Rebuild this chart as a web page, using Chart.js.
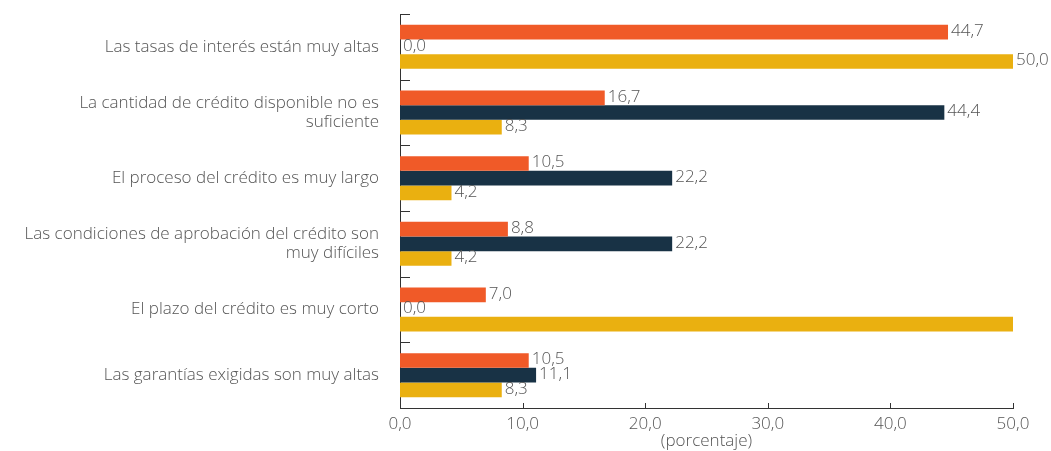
<!DOCTYPE html>
<html>
<head>
<meta charset="utf-8">
<script src="https://cdn.jsdelivr.net/npm/chart.js@4/dist/chart.umd.min.js"></script>
<style>
html,body{margin:0;padding:0;background:#fff;}
#wrap{width:1051px;height:451px;position:relative;}
</style>
</head>
<body>
<div id="wrap"><canvas id="c" width="1051" height="451"></canvas></div>
<script>
const categories = [
  "Las tasas de interés están muy altas",
  ["La cantidad de crédito disponible no es", "suficiente"],
  "El proceso del crédito es muy largo",
  ["Las condiciones de aprobación del crédito son", "muy difíciles"],
  "El plazo del crédito es muy corto",
  "Las garantías exigidas son muy altas"
];
const seriesOrange = [44.7, 16.7, 10.5, 8.8, 7.0, 10.5];
const seriesNavy   = [0.0, 44.4, 22.2, 22.2, 0.0, 11.1];
const seriesYellow = [50.0, 8.3, 4.2, 4.2, 50.0, 8.3];
const labelsOrange = ["44,7", "16,7", "10,5", "8,8", "7,0", "10,5"];
const labelsNavy   = ["0,0", "44,4", "22,2", "22,2", "0,0", "11,1"];
const labelsYellow = ["50,0", "8,3", "4,2", "4,2", null, "8,3"];
const xTicks = [0, 10, 20, 30, 40, 50];
const xTickLabels = ["0,0", "10,0", "20,0", "30,0", "40,0", "50,0"];
const xTitle = "(porcentaje)";

const FONT = "'Open Sans', 'DejaVu Sans', sans-serif";
const TEXT = "#555555";
const AXIS = "#333333";

const valueLabels = {
  id: 'valueLabels',
  afterDatasetsDraw(chart) {
    const ctx = chart.ctx;
    ctx.save();
    ctx.font = "300 17px " + FONT;
    ctx.fillStyle = TEXT;
    ctx.textAlign = 'left';
    ctx.textBaseline = 'middle';
    chart.data.datasets.forEach((ds, di) => {
      const meta = chart.getDatasetMeta(di);
      meta.data.forEach((bar, i) => {
        const t = ds.valueLabels[i];
        if (t == null) return;
        ctx.fillText(t, bar.x + 3, bar.y - 1);
      });
    });
    ctx.restore();
  }
};

const innerTicks = {
  id: 'innerTicks',
  afterDraw(chart) {
    const ctx = chart.ctx;
    const x = chart.scales.x, y = chart.scales.y;
    ctx.save();
    ctx.strokeStyle = AXIS;
    ctx.lineWidth = 1;
    ctx.beginPath();
    x.ticks.forEach((t, i) => {
      const px = Math.round(x.getPixelForTick(i)) + 0.5;
      if (i === 0) return;
      ctx.moveTo(px, x.top);
      ctx.lineTo(px, x.top - 5);
    });
    const n = categories.length;
    const step = (y.bottom - y.top) / n;
    for (let i = 0; i < n; i++) {
      const py = Math.round(y.top + i * step) + 0.5;
      ctx.moveTo(y.right, py);
      ctx.lineTo(y.right + 10, py);
    }
    ctx.stroke();
    ctx.restore();
  }
};

new Chart(document.getElementById('c'), {
  type: 'bar',
  data: {
    labels: categories,
    datasets: [
      { data: seriesOrange, valueLabels: labelsOrange, backgroundColor: '#F05A28', borderWidth: 0 },
      { data: seriesNavy, valueLabels: labelsNavy, backgroundColor: '#183245', borderWidth: 0 },
      { data: seriesYellow, valueLabels: labelsYellow, backgroundColor: '#EAB010', borderWidth: 0 }
    ]
  },
  options: {
    indexAxis: 'y',
    responsive: false,
    animation: false,
    devicePixelRatio: 1,
    layout: { padding: { top: 14, right: 38, left: 0, bottom: 0 } },
    datasets: { bar: { categoryPercentage: 0.67, barPercentage: 1.0 } },
    plugins: { legend: { display: false }, tooltip: { enabled: false } },
    scales: {
      x: {
        min: 0, max: 50,
        afterBuildTicks(scale) { scale.ticks = xTicks.map(v => ({ value: v })); },
        afterFit(scale) { scale.height = 43; scale.paddingLeft = 0; scale.paddingRight = 0; },
        ticks: {
          padding: 6,
          color: TEXT,
          font: { family: FONT, size: 17, weight: 300 },
          maxRotation: 0,
          callback(v) { return xTickLabels[xTicks.indexOf(v)]; }
        },
        grid: { display: false, drawTicks: false },
        border: { display: true, color: AXIS, width: 1 },
        title: {
          display: true, text: xTitle, color: TEXT,
          font: { family: FONT, size: 17, weight: 300, lineHeight: 1.1 },
          padding: { top: 0, bottom: 0 }
        }
      },
      y: {
        afterFit(scale) { scale.width = 400; scale.paddingTop = 0; scale.paddingBottom = 0; },
        ticks: {
          padding: 21,
          color: TEXT,
          font: { family: FONT, size: 17, weight: 300, lineHeight: 1.15 },
          crossAlign: 'near'
        },
        grid: { display: false, drawTicks: false },
        border: { display: true, color: AXIS, width: 1 }
      }
    }
  },
  plugins: [valueLabels, innerTicks]
});
</script>
</body>
</html>
